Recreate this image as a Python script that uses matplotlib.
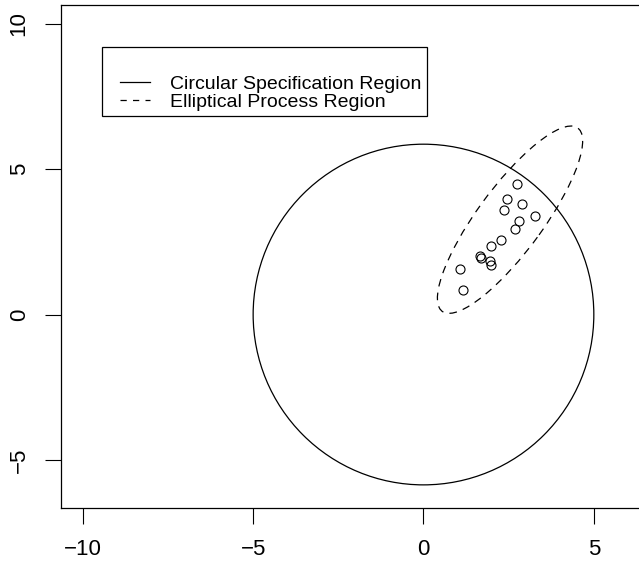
import numpy as np
import matplotlib
matplotlib.use('Agg')
import matplotlib.pyplot as plt
from matplotlib.patches import Ellipse
from matplotlib.legend_handler import HandlerLine2D

plt.rcParams['font.family'] = ['Liberation Sans', 'DejaVu Sans']
plt.rcParams['lines.scale_dashes'] = False

# process data (points inside the elliptical region)
x_pts = [2.74, 2.46, 2.90, 2.37, 3.26, 2.79, 2.69, 2.28, 1.99, 1.66, 1.69, 1.96, 1.99, 1.08, 1.17]
y_pts = [4.48, 3.97, 3.79, 3.59, 3.37, 3.22, 2.94, 2.57, 2.34, 2.02, 1.96, 1.85, 1.71, 1.56, 0.85]

# circular specification region
spec_center = (0.0, 0.0)
spec_radius = 5.0

# elliptical process region
proc_center = (2.54, 3.26)
proc_semi_major = 3.73
proc_semi_minor = 1.0
proc_angle = 58.4

xlim = (-10.64, 6.64)
ylim = (-6.64, 10.64)
xticks = [-10, -5, 0, 5]
yticks = [-5, 0, 5, 10]


# legend line that starts a little in from the left of its box (like R's legend)
class OffsetLine(HandlerLine2D):
    def __init__(self, off, **kw):
        super().__init__(**kw)
        self.off = off

    def create_artists(self, legend, orig_handle, xdescent, ydescent, width, height, fontsize, trans):
        return super().create_artists(legend, orig_handle, xdescent - self.off, ydescent,
                                      width - self.off, height, fontsize, trans)


W, H = 639, 566
fig = plt.figure(figsize=(W / 100, H / 100), dpi=100)
ax_left, ax_right, ax_bot, ax_top = 61, 649.7, 566 - 507.7, 566 - 5
ax = fig.add_axes([ax_left / W, ax_bot / H, (ax_right - ax_left) / W, (ax_top - ax_bot) / H])
ax.set_xlim(*xlim)
ax.set_ylim(*ylim)

# circle drawn round in pixel space (radius in x units), like R's symbols()
px_x = (ax_right - ax_left) / (xlim[1] - xlim[0])
px_y = (ax_top - ax_bot) / (ylim[1] - ylim[0])
circ = Ellipse(spec_center, 2 * spec_radius, 2 * spec_radius * px_x / px_y,
               fill=False, edgecolor='black', lw=0.9)
ax.add_patch(circ)

ell = Ellipse(proc_center, 2 * proc_semi_major, 2 * proc_semi_minor, angle=proc_angle,
              fill=False, edgecolor='black', lw=0.9, linestyle=(0, (5.5, 4.5)))
ax.add_patch(ell)

ax.plot(x_pts, y_pts, 'o', mfc='none', mec='black', ms=6.5, mew=0.8, linestyle='none')

h1, = ax.plot([], [], color='black', lw=0.9, label='Circular Specification Region')
h2, = ax.plot([], [], color='black', lw=0.9, linestyle=(0, (4.5, 4.5)), label='Elliptical Process Region')

leg = ax.legend(loc='upper left', bbox_to_anchor=((101.7 - ax_left) / (ax_right - ax_left),
                                                  1 - (46.7 - 5) / (ax_top - ax_bot)),
                borderaxespad=0, fancybox=False, edgecolor='black', fontsize=14,
                handlelength=2.19, handletextpad=1.03, labelspacing=0.02,
                borderpad=0.3, title=' ', title_fontsize=17, framealpha=1,
                handler_map={h1: OffsetLine(9.2), h2: OffsetLine(9.2)})
leg.get_frame().set_linewidth(0.9)

for s in ax.spines.values():
    s.set_linewidth(0.9)
ax.set_xticks(xticks)
ax.set_yticks(yticks)
ax.tick_params(length=11.5, width=0.8, labelsize=16, pad=11)
ax.tick_params(axis='y', labelrotation=90)
for lab in ax.get_yticklabels():
    lab.set_va('center')

fig.savefig('out.png', dpi=100)
